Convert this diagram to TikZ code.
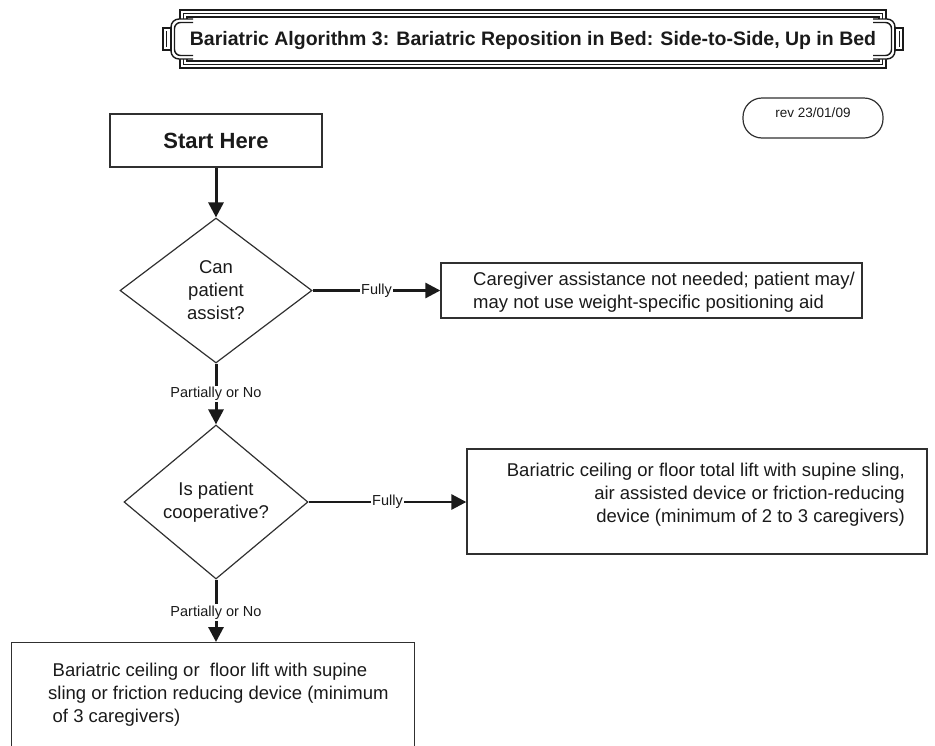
\documentclass[tikz,border=0pt]{standalone}
\usepackage{fontspec}
\setmainfont{Liberation Sans}
\usetikzlibrary{shapes.geometric,arrows.meta}

\definecolor{ink}{HTML}{1A1A1A}
\definecolor{edge}{HTML}{303030}

\tikzset{
  frameline/.style={draw=ink, line width=1.4pt},
  box/.style={draw=edge, line width=1.3pt, rectangle, inner sep=0pt},
  decision/.style={draw=edge, line width=1.2pt, diamond, inner sep=0pt, align=center,
    font=\fontsize{18.5}{23}\selectfont, text=ink},
  body/.style={font=\fontsize{18.5}{23}\selectfont, text=ink, inner sep=0pt},
  flow/.style={draw=ink, line width=3pt, -{Triangle[length=15pt,width=15pt]}},
  choice/.style={fill=white, inner sep=1.5pt, font=\fontsize{14.5}{16}\selectfont, text=ink},
}

\begin{document}
\begin{tikzpicture}[x=1pt,y=-1pt]
\useasboundingbox (0,0) rectangle (935,745);
\clip (0,0) rectangle (935,745);

% title banner: nested rules with rounded end caps and tabs
\draw[frameline] (180,10) rectangle (886,68);
\draw[frameline] (183.5,13.5) rectangle (882.5,64.5);
\draw[frameline] (187,17) rectangle (879,61);
% left end cap
\draw[frameline, fill=white, rounded corners=8pt] (193,19) -- (171,19) -- (171,59) -- (193,59);
\draw[frameline, rounded corners=6pt] (193,22.5) -- (174.5,22.5) -- (174.5,55.5) -- (193,55.5);
\draw[frameline, fill=white] (163,28) rectangle (171,50);
\draw[frameline] (166.5,31) -- (166.5,47);
% right end cap
\draw[frameline, fill=white, rounded corners=8pt] (873,19) -- (895,19) -- (895,59) -- (873,59);
\draw[frameline, rounded corners=6pt] (873,22.5) -- (891.5,22.5) -- (891.5,55.5) -- (873,55.5);
\draw[frameline, fill=white] (895,28) rectangle (903,50);
\draw[frameline] (899.5,31) -- (899.5,47);
\node[font=\fontsize{19.5}{22}\selectfont\bfseries, text=ink, inner sep=0pt] (title) at (533,40)
  {Bariatric Algorithm 3: Bariatric Reposition in Bed: Side-to-Side, Up in Bed};

% revision tag
\node[draw=edge, line width=1.2pt, rounded corners=19pt, minimum width=140pt, minimum height=40pt, inner sep=0pt] (rev) at (813,118) {};
\node[font=\fontsize{13.5}{15}\selectfont, text=ink, inner sep=0pt] (revtext) at (813,113) {rev 23/01/09};

% start
\node[box, minimum width=212pt, minimum height=53pt, font=\fontsize{22}{24}\selectfont\bfseries, text=ink] (start) at (216,140.5) {Start Here};

% decisions
\node[decision, minimum width=192pt, minimum height=145pt] (d1) at (216,290.5) {Can\\patient\\assist?};
\node[decision, minimum width=184pt, minimum height=154pt] (d2) at (216,502) {Is patient\\cooperative?};

% outcome boxes
\node[box, minimum width=421pt, minimum height=55pt] (box1) at (651.5,290.5) {};
\node[body, anchor=west, align=left] (box1text) at (473,292.5)
  {Caregiver assistance not needed; patient may/\\may not use weight-specific positioning aid};

\node[box, minimum width=460pt, minimum height=105pt] (box2) at (697,501.5) {};
\node[body, anchor=east, align=right] (box2text) at (905,495)
  {Bariatric ceiling or floor total lift with supine sling,\\air assisted device or friction-reducing\\device (minimum of 2 to 3 caregivers)};

\node[box, minimum width=403pt, minimum height=130pt, anchor=north west] (box3) at (11,642) {};
\node[body, anchor=west, align=left] (box3text) at (48,695)
  {\hspace*{4.5pt}Bariatric ceiling or \ floor lift with supine\\sling or friction reducing device (minimum\\\hspace*{4.5pt}of 3 caregivers)};

% connectors
\draw[flow] (start.south) -- (d1.north);
\draw[flow, line width=2.8pt] (d1.east) -- node[choice] (f1) {Fully} (box1.west);
\draw[flow] (d1.south) -- node[choice] (p1) {Partially or No} (d2.north);
\draw[flow, line width=2.8pt] (d2.east) -- node[choice] (f2) {Fully} (d2.east -| box2.west);
\draw[flow] (d2.south) -- node[choice, pos=0.53] (p2) {Partially or No} (d2.south |- box3.north);
\end{tikzpicture}
\end{document}
